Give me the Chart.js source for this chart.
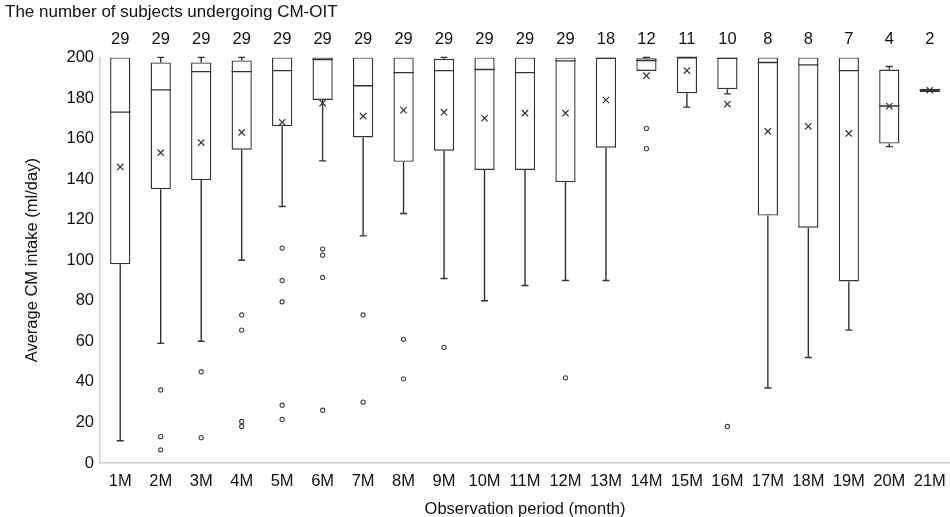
<!DOCTYPE html>
<html>
<head>
<meta charset="utf-8">
<script src="https://cdn.jsdelivr.net/npm/chart.js@4"></script>
<style>
  html, body { margin: 0; padding: 0; background: #fff; }
  #wrap { width: 950px; height: 517px; }
</style>
</head>
<body>
<div id="wrap"><canvas id="boxChart"></canvas></div>
<script>
// Dữ liệu
const months = ['1M','2M','3M','4M','5M','6M','7M','8M','9M','10M','11M','12M','13M','14M','15M','16M','17M','18M','19M','20M','21M'];
const subjects = [29,29,29,29,29,29,29,29,29,29,29,29,18,12,11,10,8,8,7,4,2];
const whiskerLow = [11,59,60,100,126.5,149,112,123,91,80,87.5,90,90,193.3,175.5,182,37,52,65.5,156,183];
const q1 = [98,135,139.5,154.5,166,179,160.5,148.5,154,144.5,144.5,138.5,155.5,193.3,182.3,184.3,122,116,89.5,157.5,183];
const median = [173,184,193,193,193.5,199,186,192.5,193.5,194,192.5,198.3,199.5,198.5,200,199.5,197.5,196.3,193.5,176,183.8];
const q3 = [200,197.5,197.5,198.5,200,200,200,200,199.3,200,200,200,200,199.6,200,200,200,200,200,194,184.6];
const whiskerHigh = [200,200,200,200,200,200,200,200,200,200,200,200,200,200,200,200,200,200,200,195.5,184.6];
const means = [146,153,158,163,168,177.5,171,174,173,170,172.5,172.5,179,191,193.5,177,163.5,166,162.5,176,183.8];
const outliers = [[],[36,13,6.5],[45,12.5],[73,65.5,20.5,18],[106,90,79.5,28.5,21.5],[105.5,102.5,91.5,26],[73,30],[61,41.5],[57],[],[],[42],[],[165,155],[],[18],[],[],[],[],[]];
const yTicks = [0,20,40,60,80,100,120,140,160,180,200];

const LINE = '#333333';
const TEXT = '#111111';
const FONT = 'Liberation Sans, Arial, sans-serif';

// Vẽ râu, vạch trung vị
const boxPlotPlugin = {
    id: 'boxPlot',
    afterDatasetsDraw(chart) {
        const ctx = chart.ctx;
        const y = chart.scales.y;
        const boxes = chart.getDatasetMeta(0).data;
        ctx.save();
        ctx.strokeStyle = LINE;
        ctx.lineWidth = 1.4;
        boxes.forEach((bar, i) => {
            const cx = bar.x;
            const half = bar.width / 2;
            const cap = 3.5;
            const yLow = y.getPixelForValue(whiskerLow[i]);
            const yQ1 = y.getPixelForValue(q1[i]);
            const yQ3 = y.getPixelForValue(q3[i]);
            const yHigh = y.getPixelForValue(whiskerHigh[i]);
            const yMed = y.getPixelForValue(median[i]);
            ctx.beginPath();
            if (whiskerLow[i] < q1[i]) {
                ctx.moveTo(cx, yQ1); ctx.lineTo(cx, yLow);
                ctx.moveTo(cx - cap, yLow); ctx.lineTo(cx + cap, yLow);
            }
            if (whiskerHigh[i] > q3[i]) {
                ctx.moveTo(cx, yQ3); ctx.lineTo(cx, yHigh);
                ctx.moveTo(cx - cap, yHigh); ctx.lineTo(cx + cap, yHigh);
            }
            ctx.moveTo(cx - half, yMed); ctx.lineTo(cx + half, yMed);
            ctx.stroke();
        });
        ctx.restore();
    }
};

const meanPoints = months.map((m, i) => ({ x: m, y: means[i] }));
const outlierPoints = [];
outliers.forEach((list, i) => list.forEach(v => outlierPoints.push({ x: months[i], y: v })));

new Chart(document.getElementById('boxChart'), {
    type: 'bar',
    data: {
        labels: months,
        datasets: [{
            label: 'Box',
            data: months.map((m, i) => [q1[i], q3[i]]),
            backgroundColor: '#ffffff',
            borderColor: LINE,
            borderWidth: 1.4,
            borderSkipped: false,
            categoryPercentage: 1,
            barPercentage: 0.5,
            order: 3
        }, {
            type: 'line',
            label: 'Mean',
            data: meanPoints,
            showLine: false,
            pointStyle: 'crossRot',
            pointRadius: 4.5,
            borderColor: LINE,
            pointBorderWidth: 1.2,
            order: 1
        }, {
            type: 'line',
            label: 'Outlier',
            data: outlierPoints,
            showLine: false,
            pointStyle: 'circle',
            pointRadius: 2.1,
            backgroundColor: '#ffffff',
            borderColor: '#444',
            pointBorderWidth: 1.1,
            order: 2
        }]
    },
    options: {
        responsive: true,
        maintainAspectRatio: false,
        animation: false,
        layout: { autoPadding: false, padding: { left: 5, right: 0, top: 0, bottom: 0 } },
        plugins: {
            legend: { display: false },
            tooltip: { enabled: false },
            title: {
                display: true,
                text: 'The number of subjects undergoing CM-OIT',
                align: 'start',
                color: TEXT,
                font: { family: FONT, size: 17, weight: 'normal' },
                padding: { top: 2, bottom: 3 }
            }
        },
        scales: {
            x: {
                type: 'category',
                position: 'bottom',
                offset: true,
                grid: { display: false, drawTicks: false },
                border: { display: true, color: '#cfcfcf', width: 1.5 },
                ticks: { color: TEXT, font: { family: FONT, size: 16.5 }, padding: 9, maxRotation: 0, autoSkip: false },
                title: {
                    display: true,
                    text: 'Observation period (month)',
                    color: TEXT,
                    font: { family: FONT, size: 16.5 },
                    padding: { top: 6, bottom: -2 }
                },
                afterFit(scale) { scale.height = 54; scale.paddingLeft = 0; scale.paddingRight = 0; }
            },
            xTop: {
                type: 'category',
                position: 'top',
                labels: subjects.map(String),
                offset: true,
                grid: { display: false, drawTicks: false },
                border: { display: false },
                ticks: { color: TEXT, font: { family: FONT, size: 16.5 }, padding: 8, maxRotation: 0, autoSkip: false },
                afterFit(scale) { scale.height = 32; scale.paddingLeft = 0; scale.paddingRight = 0; }
            },
            y: {
                min: 0,
                max: 200,
                afterBuildTicks(scale) { scale.ticks = yTicks.map(v => ({ value: v })); },
                grid: { display: false, drawTicks: false },
                border: { display: true, color: '#cfcfcf', width: 1.5 },
                ticks: { color: TEXT, font: { family: FONT, size: 16.5 }, padding: 6 },
                title: {
                    display: true,
                    text: 'Average CM intake (ml/day)',
                    color: TEXT,
                    font: { family: FONT, size: 16.5 },
                    padding: { top: 18, bottom: 0 }
                },
                afterFit(scale) { scale.width = 95; }
            }
        }
    },
    plugins: [boxPlotPlugin]
});
</script>
</body>
</html>
